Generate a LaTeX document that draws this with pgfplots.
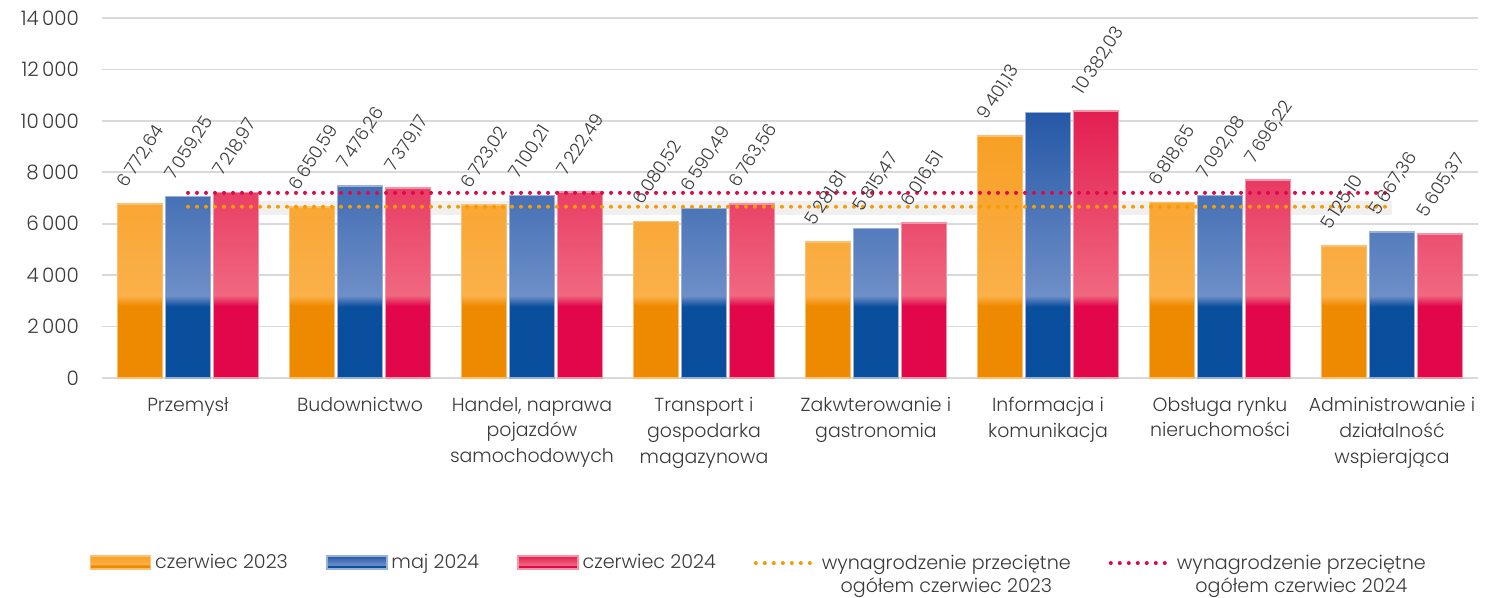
\documentclass[border=0pt]{standalone}
\usepackage{fontspec}
\setmainfont{Poppins}[UprightFont=* Light]
\usepackage{pgfplots}
\pgfplotsset{compat=1.18}
\definecolor{oD}{HTML}{EE8A00}
\definecolor{oL}{HTML}{FBB04A}
\definecolor{oT}{HTML}{F7A024}
\definecolor{bD}{HTML}{0A4F9E}
\definecolor{bL}{HTML}{6E8FC8}
\definecolor{bT}{HTML}{2558A6}
\definecolor{rD}{HTML}{E2064A}
\definecolor{rL}{HTML}{F06880}
\definecolor{rT}{HTML}{E31E51}
\definecolor{oLine}{HTML}{F59C00}
\definecolor{rLine}{HTML}{E2064A}
\definecolor{txt}{HTML}{3A3A3A}
\definecolor{grd}{HTML}{D9D9D9}
\pgfdeclareverticalshading{shO}{100bp}{color(0bp)=(oD); color(40bp)=(oD); color(42bp)=(oL); color(75bp)=(oT); color(100bp)=(oT)}
\pgfdeclareverticalshading{shB}{100bp}{color(0bp)=(bD); color(38.5bp)=(bD); color(40.5bp)=(bL); color(75bp)=(bT); color(100bp)=(bT)}
\pgfdeclareverticalshading{shR}{100bp}{color(0bp)=(rD); color(38.5bp)=(rD); color(40.5bp)=(rL); color(75bp)=(rT); color(100bp)=(rT)}
\newcommand\lbl{\fontsize{9}{11}\selectfont}
\newcommand\lgf{\fontsize{9.6}{11.5}\selectfont}
\newcommand\tkf{\fontsize{10}{12}\selectfont}
\newcommand\catf{\fontsize{9.5}{13}\selectfont}
\pgfplotsset{
  mybar/.style={ybar, bar width=22.5bp, bar shift=0bp, line width=0.8bp,
    point meta=explicit symbolic, nodes near coords,
    every node near coord/.append style={font=\lbl, text=txt, anchor=west, inner sep=0pt, xshift=-9bp, yshift=9bp, rotate=57},
    legend image code/.code={\path[##1] (0bp,-3bp) rectangle (30bp,3.5bp);}},
  myline/.style={line width=2bp, line cap=round, dash pattern=on 0bp off 4.5bp,
    legend image code/.code={\draw[##1] (0bp,0bp) -- (30bp,0bp);}},
}
\begin{document}
\begin{tikzpicture}
\begin{axis}[
  scale only axis, width=688bp, height=180bp,
  xmin=-0.5, xmax=7.5, ymin=0, ymax=14000,
  ytick={0,2000,...,14000},
  scaled y ticks=false,
  xtick={0,...,7},
  xticklabels={Przemysł, Budownictwo, {Handel, naprawa\\pojazdów\\samochodowych}, {Transport i\\gospodarka\\magazynowa}, {Zakwterowanie i\\gastronomia}, {Informacja i\\komunikacja}, {Obsługa rynku\\nieruchomości}, {Administrowanie i\\działalność\\wspierająca}},
  xticklabel style={align=center, font=\catf, text=txt, yshift=-6bp},
  yticklabel style={font=\tkf, text=txt, xshift=-8bp},
  /pgf/number format/assume math mode=true,
  /pgf/number format/1000 sep={\,},
  ymajorgrids, grid style={draw=grd, line width=0.9bp},
  axis line style={draw=none}, major tick length=0pt,
  legend columns=5,
  legend style={draw=none, at={(0.478,-0.514)}, anchor=center, font=\lgf, text=txt,
    /tikz/every even column/.append style={column sep=17bp}},
  clip=false,
]
\addplot[forget plot, draw=black, opacity=0.06, line width=7bp] coordinates {(0,6620) (7,6620)};
\addplot[mybar, shade, shading=shO, draw=oL!80!white] coordinates {
(-0.279,6772.64) [6\,772,64]
(0.721,6650.59) [6\,650,59]
(1.721,6723.02) [6\,723,02]
(2.721,6080.52) [6\,080,52]
(3.721,5281.81) [5\,281,81]
(4.721,9401.13) [9\,401,13]
(5.721,6818.65) [6\,818,65]
(6.721,5125.10) [5\,125,10]};
\addlegendentry{czerwiec 2023}
\addplot[mybar, shade, shading=shB, draw=bL!70!white] coordinates {
(0,7059.25) [7\,059,25]
(1,7476.26) [7\,476,26]
(2,7100.21) [7\,100,21]
(3,6590.49) [6\,590,49]
(4,5815.47) [5\,815,47]
(5,10320) []
(6,7092.08) [7\,092,08]
(7,5667.36) [5\,667,36]};
\addlegendentry{maj 2024}
\addplot[mybar, shade, shading=shR, draw=rL!70!white] coordinates {
(0.279,7218.97) [7\,218,97]
(1.279,7379.17) [7\,379,17]
(2.279,7222.49) [7\,222,49]
(3.279,6763.56) [6\,763,56]
(4.279,6016.51) [6\,016,51]
(5.279,10382.03) [10\,382,03]
(6.279,7696.22) [7\,696,22]
(7.279,5605.37) [5\,605,37]};
\addlegendentry{czerwiec 2024}
\addplot[myline, draw=oLine] coordinates {(0,6660) (7,6660)};
\addlegendentry{\begin{tabular}[t]{@{}c@{}}wynagrodzenie przeciętne\\ogółem czerwiec 2023\end{tabular}}
\addplot[myline, draw=rLine] coordinates {(0,7200) (7,7200)};
\addlegendentry{\begin{tabular}[t]{@{}c@{}}wynagrodzenie przeciętne\\ogółem czerwiec 2024\end{tabular}}
\path (rel axis cs:0,0) coordinate (A) (rel axis cs:1,1) coordinate (B);
\end{axis}
\pgfresetboundingbox
\path[use as bounding box] ([xshift=-51bp,yshift=-110bp]A) rectangle ([xshift=12.5bp,yshift=9bp]B);
\end{tikzpicture}
\end{document}
